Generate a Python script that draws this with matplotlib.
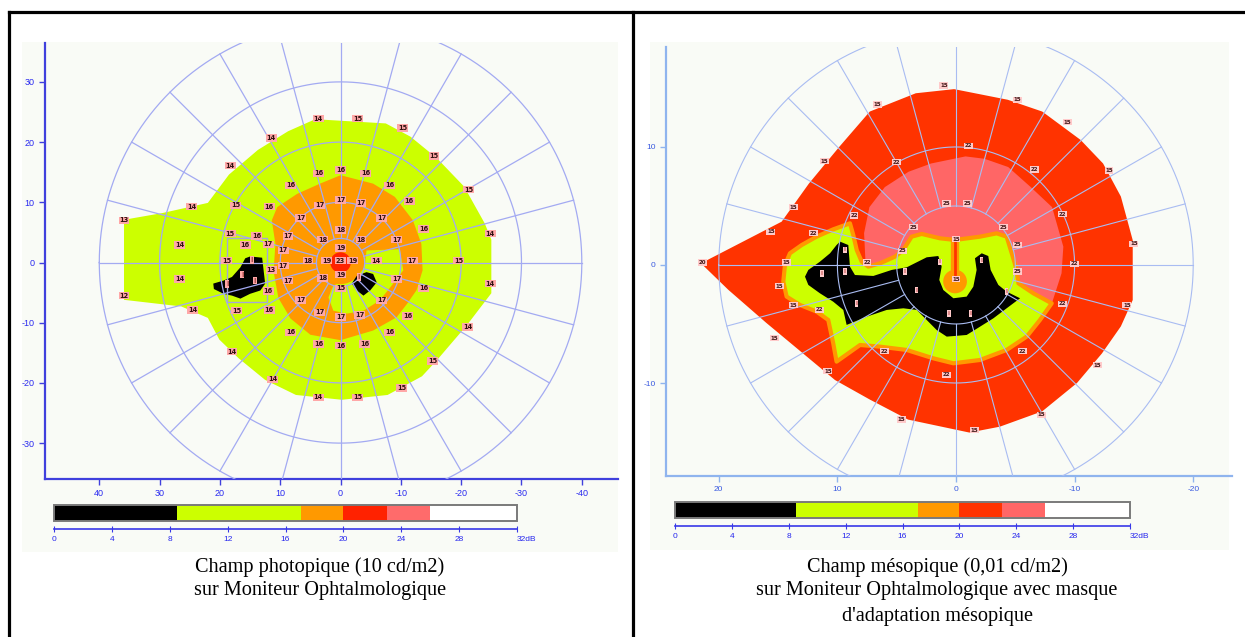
import numpy as np
import matplotlib
matplotlib.use("Agg")
import matplotlib.pyplot as plt
from matplotlib.patches import Rectangle, Circle
from matplotlib.lines import Line2D

plt.rcParams["axes.unicode_minus"] = False

# ---------------- data: left field (photopic) ----------------
green_x = [4.2, -7.5, -11.6, -16.0, -20.5, -23.9, -25.0, -25.0, -20.8, -18.9, -16.0, -13.5,
           -7.8, -0.2, 7.4, 12.5, 16.9, 20.1, 22.0, 26.4, 35.9, 35.9, 29.6, 22.0, 18.5, 13.7, 8.7]
green_y = [23.8, 23.1, 20.9, 17.3, 12.6, 6.5, 3.8, -5.1, -10.6, -12.8, -16.2, -18.9,
           -22.0, -22.8, -22.0, -19.5, -15.9, -12.8, -9.2, -7.3, -6.2, 7.1, 8.2, 9.9, 14.6, 18.7, 21.8]
orange_x = [0, -5.4, -9.0, -12.0, -13.4, -13.6, -12.6, -11.0, -9.3, -5.4, -2.7, 0, 5.0, 8.3,
            10.3, 11.1, 10.8, 11.4, 10.5, 7.2, 3.4]
orange_y = [14.5, 13.1, 10.9, 7.0, 3.1, -1.3, -4.6, -6.9, -9.1, -11.3, -12.1, -12.9, -12.0, -9.3,
            -5.9, -1.5, 3.1, 7.0, 9.2, 11.4, 13.1]
inner_green_x = [-4.3, -9.8, -10.4, -8.5, -6.5, -3.8, -1.0, 1.2, 2.0, 1.2, -1.0, -2.6, -4.0]
inner_green_y = [2.0, 2.2, -1.3, -3.8, -6.3, -8.0, -8.5, -8.0, -5.8, -3.8, -3.0, -2.4, -0.8]
center_disc_r = 3.6
center_red_r = 1.7
blob1_x = [15.0, 13.0, 12.5, 13.3, 15.0, 16.6, 18.0, 19.4, 21.0, 21.1, 19.4, 18.0, 16.6, 15.8]
blob1_y = [1.0, 0.8, -3.5, -4.65, -5.2, -6.0, -5.5, -5.2, -4.4, -3.5, -3.0, -2.4, -0.8, 0.7]
blob2_x = [-2.7, -4.3, -5.4, -6.0, -4.9, -3.8, -2.7, -1.85]
blob2_y = [-2.2, -1.6, -1.9, -3.3, -4.65, -5.5, -4.65, -3.5]
box_x = [12.2, 18.8]
box_y = [-6.5, 4.0]

left_lab_x = [3.7, -2.85, -10.3, 11.5, -15.5, 18.3, -21.2, 24.7, 35.9, -24.8, 26.7, 26.7, -24.8, 35.9,
              24.5, -21.1, 18.0, -15.3, 11.3, -10.1, 3.7, -2.85,
              0, 3.6, -4.2, 8.3, -8.1, 17.4, 11.8, -11.4, 18.3, 13.9, 15.8, -13.8, 18.9, -19.6, 11.5,
              12.0, -13.8, 17.2, 11.8, -11.1, 8.3, -8.1, 3.6, 0, -4.0,
              0, 3.5, -3.4, 6.6, -6.8, 8.7, -9.3, 12.0, 9.5, 9.5, -11.9, 8.7, -9.3, 6.6, -6.8, 3.5, 0, -3.2,
              0, 3.0, -3.4, 5.4, 3.0, 0, 2.3, -2.0, 0, 0, 0, -5.9,
              14.7, 16.3, 14.2, 18.8, -3.0]
left_lab_y = [23.9, 23.9, 22.3, 20.7, 17.7, 16.1, 12.1, 9.3, 7.0, 4.8, 2.9, -2.7, -3.5, -5.5,
              -7.9, -10.7, -14.8, -16.4, -19.4, -20.8, -22.4, -22.4,
              15.4, 14.8, 14.8, 12.8, 12.8, 9.5, 9.3, 10.2, 4.8, 4.4, 2.9, 5.6, 0.3, 0.3, -1.2,
              -4.7, -4.3, -8.0, -7.9, -8.9, -11.6, -11.6, -13.5, -13.8, -13.5,
              10.4, 9.5, 9.9, 7.4, 7.4, 4.4, 3.8, 3.0, 2.0, -0.5, 0.3, -3.0, -2.7, -6.2, -6.3, -8.3, -9.1, -8.7,
              5.4, 3.8, 3.8, 0.3, -2.6, 2.4, 0.3, 0.3, -2.0, 0.3, -4.3, 0.3,
              0.4, -2.0, -3.0, -3.6, -2.4]
left_lab_v = ["14", "15", "15", "14", "15", "14", "15", "14", "13", "14", "14", "14", "14", "12",
              "14", "14", "14", "15", "14", "15", "14", "15",
              "16", "16", "16", "16", "16", "15", "16", "16", "15", "16", "16", "16", "15", "15", "13",
              "16", "16", "15", "16", "16", "16", "16", "16", "16", "16",
              "17", "17", "17", "17", "17", "17", "17", "17", "17", "17", "17", "17", "17", "17", "17", "17", "17", "17",
              "18", "18", "18", "18", "18", "19", "19", "19", "19", "23", "15", "14",
              "I", "I", "I", "I", "I"]

# ---------------- data: right field (mesopic) ----------------
red_x = [21.5, 14.7, 12.4, 9.85, 7.27, 3.39, 0.16, -4.36, -7.27, -10.5, -12.4, -13.9, -14.9, -14.9,
         -13.9, -12.3, -10.2, -7.27, -3.7, -1.13, 4.04, 7.27, 10.2, 16.0, 19.2]
red_y = [0.14, 3.67, 6.9, 10.0, 13.0, 14.55, 14.9, 14.0, 13.0, 10.6, 8.6, 5.8, 2.1, -2.97,
         -5.2, -7.5, -10.0, -12.4, -13.7, -14.2, -13.1, -11.4, -9.75, -4.9, -2.1]
salmon_x = [-0.8, 2.1, 4.0, 6.0, 7.3, 7.75, 7.6, 4.0, 0, -5.65, -8.1, -8.9, -9.05, -8.1, -6.3, -4.4, -2.4]
salmon_y = [9.2, 8.6, 7.9, 6.6, 4.9, 2.7, -0.4, -1.3, -0.7, -2.4, -3.2, -0.7, 1.55, 4.9, 6.6, 8.3, 9.0]
yellow_x = [14.42, 14.0, 13.01, 11.75, 10.35, 8.94, 8.66, 8.37, 7.95, 7.39, 6.41, 5.14, 4.44, 3.74,
            2.89, 1.35, 0.08, -2.02, -3.43, -4.27, -4.70, -5.12, -5.26, -6.52, -8.07, -7.08, -5.96,
            -4.27, -2.02, 0.22, 1.91, 4.16, 6.41, 8.09, 10.07, 10.35, 10.77, 11.75, 13.15, 14.28, 14.56]
yellow_y = [0.0, 0.99, 1.69, 2.40, 3.02, 3.53, 2.54, 1.27, 0.28, -0.14, 0.14, 0.71, 1.27, 2.40,
            2.63, 2.26, 2.12, 2.40, 2.68, 2.40, 0.99, -0.42, -1.55, -2.40, -3.25, -4.66, -6.07,
            -7.20, -8.05, -8.33, -7.91, -7.20, -6.92, -6.78, -8.19, -6.64, -4.66, -3.95, -3.39, -2.68, -1.41]
black_x = [9.78, 9.08, 8.94, 8.52, 6.97, 5.42, 4.16, 2.47, 1.49, 1.21, 1.41, 1.07, 0.22, -0.90,
           -1.46, -1.74, -1.60, -2.17, -2.72, -2.92, -3.57, -4.27, -5.40, -4.27, -3.15, -2.02,
           -0.90, 0.78, 1.63, 2.47, 3.31, 4.44, 5.84, 7.53, 9.22, 9.50, 10.35, 11.47, 12.45,
           12.73, 12.45, 11.47, 10.62, 10.07]
black_y = [1.98, 1.69, -0.14, -0.85, -0.93, -0.42, -0.20, 0.65, 0.76, -0.14, -1.27, -2.12, -2.82,
           -2.68, -1.84, -0.42, 0.57, 0.99, 0.76, -0.42, -1.69, -2.26, -2.82, -3.67, -4.52, -5.23,
           -5.93, -6.07, -5.51, -4.66, -3.81, -3.67, -3.81, -4.38, -5.08, -3.81, -3.11, -2.40, -1.69,
           -0.99, -0.42, 0.28, 0.99, 1.69]
tongue_x = 0.08
tongue_y = [2.2, -0.9]
bulb_xy = (0.08, -1.4)
bulb_r = 1.0

right_lab_x = [1.03, 6.6, -5.2, -9.4, 11.1, -12.9, 13.7, 15.6, -15.0, 21.4, 14.3, 14.9, 13.7, -14.4,
               15.3, -11.9, 10.8, -7.2, 4.6, -1.55,
               -1.03, 5.0, -6.6, 8.6, 12.0, -9.0, 7.5, -10.0, 11.5, -9.0, 6.0, -5.6, 0.8,
               0.8, -1.0, 3.55, -4.0, -5.2, -5.2, 4.5, 0, 0,
               9.36, 11.3, 9.36, 8.38, 4.30, 3.31, 1.35, -2.17, -4.27, 0.6, -1.2]
right_lab_y = [15.2, 13.6, 14.0, 12.1, 8.8, 8.0, 4.9, 2.8, 1.8, 0.2, 0.2, -1.8, -3.4, -3.4,
               -6.2, -8.5, -9.0, -12.7, -13.1, -14.0,
               10.1, 8.7, 8.1, 4.2, 2.7, 4.3, 0.2, 0.1, -3.8, -3.3, -7.3, -7.3, -9.3,
               5.2, 5.2, 3.2, 3.2, 1.7, -0.56, 1.2, 2.2, -1.2,
               1.27, -0.71, -0.56, -3.25, -0.56, -2.12, 0.28, 0.42, -2.26, -4.1, -4.1]
right_lab_v = ["15"] * 9 + ["20"] + ["15"] * 10 + ["22"] * 13 + ["25"] * 7 + ["15", "15"] + ["I"] * 11

# ---------------- shared scale ----------------
cb_bounds = [0, 8.5, 17.1, 20, 23, 26, 32]
cb_colors_left = ["#000000", "#CCFF00", "#FF9900", "#FF2200", "#FF6B6B", "#FFFFFF"]
cb_colors_right = ["#000000", "#CCFF00", "#FF9900", "#FF3300", "#FF6666", "#FFFFFF"]
cb_ticks = list(range(0, 33, 4))
spoke_angles = np.arange(0, 360, 15)

W, H = 1245, 637
fig = plt.figure(figsize=(W / 100, H / 100), dpi=100)
fig.patch.set_facecolor("white")


def px_axes(x0, y0, x1, y1):
    return fig.add_axes([x0 / W, 1 - y1 / H, (x1 - x0) / W, (y1 - y0) / H])


# panel backgrounds
for bx0, by0, bx1, by1 in [(22, 42, 618, 552), (650, 42, 1229, 550)]:
    fig.add_artist(Rectangle((bx0 / W, 1 - by1 / H), (bx1 - bx0) / W, (by1 - by0) / H,
                             transform=fig.transFigure, fc="#F9FBF6", ec="none", zorder=0))

# table lines
for xs, ys in [([9, W], [12, 12]), ([9, 9], [12, H]), ([633, 633], [12, H])]:
    fig.add_artist(Line2D([x / W for x in xs], [1 - y / H for y in ys], color="black", lw=2.3,
                          transform=fig.transFigure))


def polar_grid(ax, rings, r_in, r_out, color, lw):
    t = np.linspace(0, 2 * np.pi, 400)
    for r in rings:
        ax.plot(r * np.cos(t), r * np.sin(t), color=color, lw=lw, zorder=3)
    for a in np.deg2rad(spoke_angles):
        ax.plot([r_in * np.cos(a), r_out * np.cos(a)], [r_in * np.sin(a), r_out * np.sin(a)],
                color=color, lw=lw, zorder=3)


def put_labels(ax, xs, ys, vals, fs, fc, tc, tc0):
    for x, y, s in zip(xs, ys, vals):
        ax.text(x, y, s, ha="center", va="center", fontsize=fs, fontweight="bold",
                color=tc0 if s == "I" else tc, family="DejaVu Sans",
                bbox=dict(boxstyle="square,pad=0.12", fc=fc, ec="none"), zorder=6)


def style_axes(ax, spine_col, lab_col, fs):
    ax.set_facecolor("none")
    for s in ["top", "right"]:
        ax.spines[s].set_visible(False)
    for s in ["left", "bottom"]:
        ax.spines[s].set_color(spine_col)
        ax.spines[s].set_linewidth(1.6)
    ax.tick_params(colors=spine_col, labelcolor=lab_col, labelsize=fs, length=4, width=1)
    for lab in ax.get_xticklabels() + ax.get_yticklabels():
        lab.set_family("Liberation Sans")


def colorbar(x0, y0, x1, y1, colors):
    cax = px_axes(x0, y0, x1, y1)
    starts = cb_bounds[:-1]
    widths = np.diff(cb_bounds)
    cax.barh(0, widths, left=starts, height=1, color=colors, edgecolor="none")
    cax.add_patch(Rectangle((0, -0.5), 32, 1, fill=False, ec="#7A7A7A", lw=1.4, clip_on=False))
    cax.set_xlim(0, 32)
    cax.set_ylim(-0.5, 0.5)
    cax.set_yticks([])
    cax.set_facecolor("none")
    for s in ["top", "left", "right"]:
        cax.spines[s].set_visible(False)
    cax.spines["bottom"].set_position(("outward", 6))
    cax.spines["bottom"].set_color("#3838E8")
    cax.spines["bottom"].set_linewidth(1.2)
    cax.set_xticks(cb_ticks)
    cax.set_xticklabels([str(t) for t in cb_ticks[:-1]] + ["32dB"])
    cax.tick_params(axis="x", direction="inout", length=5, color="#3838E8", labelcolor="#2626EE",
                    labelsize=6, pad=2)
    lab = cax.get_xticklabels()[-1]
    lab.set_horizontalalignment("left")
    lab.set_x(31.6)
    for lb in cax.get_xticklabels():
        lb.set_family("Liberation Sans")
    return cax


# ---------------- left plot ----------------
ax1 = px_axes(45, 43, 618, 479)
ax1.fill(green_x, green_y, color="#CCFF00", lw=0, zorder=1)
ax1.fill(orange_x, orange_y, color="#FF9900", lw=0, zorder=1.1)
ax1.fill(inner_green_x, inner_green_y, color="#CCFF00", lw=0, zorder=1.2)
ax1.add_patch(Circle((0, 0), center_disc_r, color="#FF9900", lw=0, zorder=1.3))
ax1.add_patch(Circle((0, 0), center_red_r, color="#FF2200", lw=0, zorder=1.4))
ax1.fill(blob1_x, blob1_y, color="black", lw=0, zorder=1.5)
ax1.fill(blob2_x, blob2_y, color="black", lw=0, zorder=1.5)
ax1.add_patch(Rectangle((box_x[0], box_y[0]), box_x[1] - box_x[0], box_y[1] - box_y[0],
                        fill=False, ec="#A4A8D8", lw=1.0, zorder=3))
polar_grid(ax1, [4, 10, 20, 30, 40], 4, 40, "#A3AAF2", 0.9)
put_labels(ax1, left_lab_x, left_lab_y, left_lab_v, 4.8, "#FFA8A8", "#301010", "#A04040")
ax1.set_xlim(49.0, -46.0)
ax1.set_ylim(-35.96, 36.46)
ax1.set_xticks(range(40, -41, -10))
ax1.set_yticks(range(-30, 31, 10))
style_axes(ax1, "#4040DD", "#2A2AF0", 6.5)

# ---------------- right plot ----------------
ax2 = px_axes(666, 47, 1232, 476)
ax2.fill(red_x, red_y, color="#FF3300", lw=0, zorder=1)
ax2.fill(salmon_x, salmon_y, color="#FF6666", lw=0, zorder=1.1)
ax2.fill(yellow_x, yellow_y, fc="#CCFF00", ec="#FF9900", lw=3, joinstyle="round", zorder=1.2)
ax2.plot([tongue_x, tongue_x], tongue_y, color="#FF9900", lw=6, solid_capstyle="butt", zorder=1.3)
ax2.add_patch(Circle(bulb_xy, bulb_r, color="#FF9900", lw=0, zorder=1.3))
ax2.plot([tongue_x, tongue_x], tongue_y, color="#FF3300", lw=2, zorder=1.35)
ax2.fill(black_x, black_y, color="black", lw=0, zorder=1.5)
polar_grid(ax2, [5, 10, 20], 5, 20, "#A9BCF2", 0.8)
put_labels(ax2, right_lab_x, right_lab_y, right_lab_v, 4.0, "#FFCACA", "#401818", "#C05050")
ax2.set_xlim(24.45, -23.27)
ax2.set_ylim(-17.88, 18.47)
ax2.set_xticks(range(20, -21, -10))
ax2.set_yticks([10, 0, -10])
style_axes(ax2, "#8FB4EE", "#3A5AE0", 6)

# ---------------- colour scales ----------------
colorbar(54, 505, 517, 521, cb_colors_left)
colorbar(675, 502, 1130, 518, cb_colors_right)

# ---------------- captions ----------------
cap_font = dict(family="Liberation Serif", fontsize=14.6, ha="center", va="center", color="black")
fig.text(320 / W, 1 - 567 / H, "Champ photopique (10 cd/m2)", **cap_font)
fig.text(320 / W, 1 - 591 / H, "sur Moniteur Ophtalmologique", **cap_font)
fig.text(937 / W, 1 - 567 / H, "Champ mésopique (0,01 cd/m2)", **cap_font)
fig.text(937 / W, 1 - 591 / H, "sur Moniteur Ophtalmologique avec masque", **cap_font)
fig.text(937 / W, 1 - 616 / H, "d'adaptation mésopique", **cap_font)

fig.savefig("out.png", dpi=100)
